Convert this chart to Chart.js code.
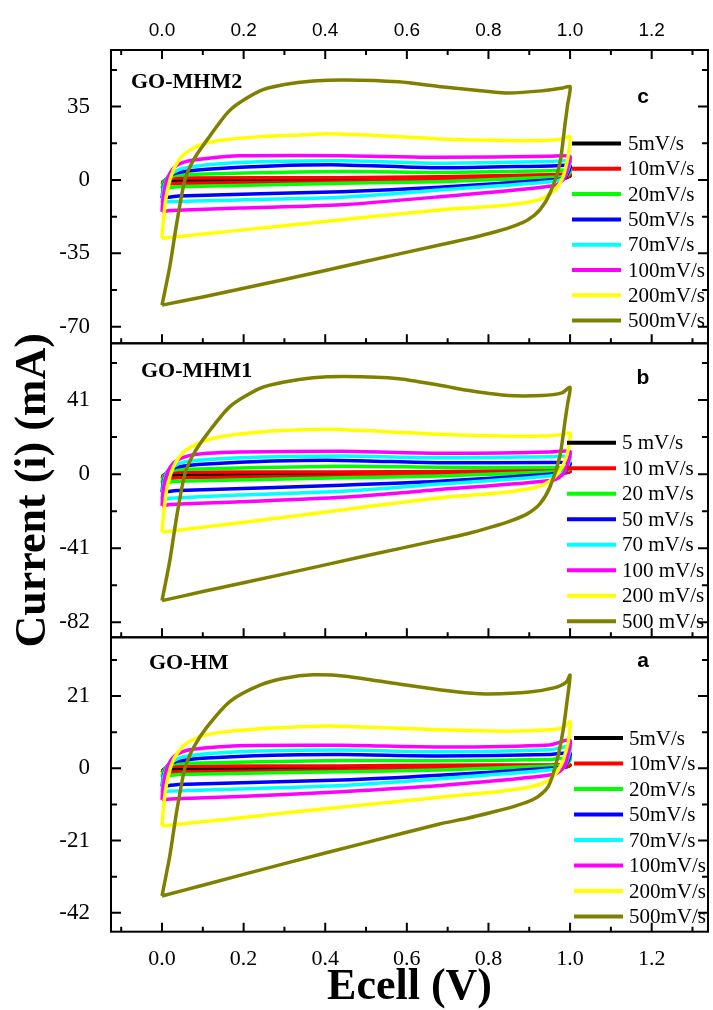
<!DOCTYPE html>
<html>
<head>
<meta charset="utf-8">
<script src="https://cdn.jsdelivr.net/npm/chart.js@4.4.1/dist/chart.umd.min.js"></script>
<style>
  html, body { margin: 0; padding: 0; background: #fff; }
  #wrap { position: relative; width: 713px; height: 1010px; }
  #wrap canvas { position: absolute; left: 0; top: 0; }
</style>
</head>
<body>
<div id="wrap">
  <canvas id="panelC" width="713" height="1010"></canvas>
  <canvas id="panelB" width="713" height="1010"></canvas>
  <canvas id="panelA" width="713" height="1010"></canvas>
</div>
<script>
// scan rates and colours (same for the 3 panels)
const legendC = ['5mV/s', '10mV/s', '20mV/s', '50mV/s', '70mV/s', '100mV/s', '200mV/s', '500mV/s'];
const legendB = ['5 mV/s', '10 mV/s', '20 mV/s', '50 mV/s', '70 mV/s', '100 mV/s', '200 mV/s', '500 mV/s'];
const legendA = ['5mV/s', '10mV/s', '20mV/s', '50mV/s', '70mV/s', '100mV/s', '200mV/s', '500mV/s'];
const colors = ['#000000', '#ff0000', '#00ff00', '#0000ff', '#00ffff', '#ff00ff', '#ffff00', '#808000'];

// axis ticks
const xMajor = [0, 0.2, 0.4, 0.6, 0.8, 1.0, 1.2];
const xMinor = [-0.1, 0.1, 0.3, 0.5, 0.7, 0.9, 1.1, 1.3];
const yMajorC = [-70, -35, 0, 35];
const yMinorC = [-52.5, -17.5, 17.5, 52.5];
const yMajorB = [-82, -41, 0, 41];
const yMinorB = [-61.5, -20.5, 20.5, 61.5];
const yMajorA = [-42, -21, 0, 21];
const yMinorA = [-31.5, -10.5, 10.5, 31.5];

// CV loops [Ecell (V), current (mA)] : forward sweep then reverse sweep
// panel c : GO-MHM2
const c5 = [[0,-1.2],[0.01,0],[0.03,0.5],[0.2,0.6],[0.44,0.8],[0.68,1.1],[0.95,1.7],[1,2],[0.99,1],[0.95,0.9],[0.68,0.1],[0.44,-0.4],[0.2,-0.7],[0.03,-1],[0,-1.2]];
const c10 = [[0,-2.1],[0.004,-0.6],[0.015,0.5],[0.04,0.9],[0.44,1.1],[0.68,1.6],[0.95,2.5],[1,2.8],[0.995,1.6],[0.98,1.4],[0.95,1.5],[0.68,0.3],[0.44,-0.8],[0.04,-1.6],[0,-2.1]];
const c20 = [[0,-4],[0.004,-1],[0.015,1.2],[0.04,2.4],[0.44,4],[0.68,3.6],[0.95,4.4],[1,4.6],[0.995,2.5],[0.98,1.6],[0.95,1.3],[0.68,-0.8],[0.44,-1.6],[0.04,-3.2],[0,-4]];
const c50 = [[0,-8.7],[0.004,-3],[0.015,1.5],[0.04,3.6],[0.11,5.1],[0.27,6.7],[0.44,7.2],[0.68,5.8],[0.95,6.7],[1,6.8],[0.995,3.5],[0.985,0.8],[0.95,0],[0.68,-3.5],[0.44,-5.6],[0.04,-7.6],[0,-8.7]];
const c70 = [[0,-11],[0.004,-4],[0.015,1.6],[0.05,5.5],[0.19,8.3],[0.44,9.2],[0.68,8],[0.95,8.8],[1,9],[0.995,5],[0.985,1],[0.95,-0.8],[0.68,-4.8],[0.44,-8.2],[0.19,-9.5],[0.02,-10.3],[0,-11]];
const c100 = [[0,-15.2],[0.003,-8],[0.012,0],[0.03,6],[0.06,8.9],[0.11,10.3],[0.19,11.5],[0.44,11.6],[0.68,10.8],[0.95,11.3],[1,11.2],[0.995,6],[0.985,0.5],[0.96,-2.8],[0.68,-8],[0.44,-11.8],[0.19,-13.4],[0.02,-14.6],[0,-15.2]];
const c200 = [[0,-27.8],[0.004,-18],[0.012,-6],[0.028,4.8],[0.052,11.9],[0.093,16.7],[0.15,19.1],[0.25,20.8],[0.34,21.5],[0.41,22],[0.55,21],[0.68,19.6],[0.85,18.8],[0.95,19],[0.985,19.8],[1,20.7],[0.998,15],[0.995,11.1],[0.983,1.6],[0.963,-4.8],[0.934,-8.6],[0.885,-11],[0.804,-12.7],[0.68,-14.3],[0.34,-21],[0,-27.8]];
const c500 = [[0,-59.7],[0.019,-41.4],[0.036,-20.7],[0.056,0],[0.077,9.5],[0.11,19],[0.167,33.4],[0.24,42.5],[0.3,45.5],[0.37,47.2],[0.45,47.7],[0.58,46.8],[0.684,44.5],[0.806,42.1],[0.848,41.5],[0.93,42.5],[0.98,43.8],[1,44.5],[0.994,36],[0.988,27.2],[0.975,8.1],[0.951,-6.2],[0.926,-14.3],[0.895,-19.2],[0.853,-22.6],[0.804,-25.4],[0.748,-28.1],[0.68,-31],[0.5,-38.8],[0.3,-47.5],[0.1,-55.8],[0,-59.7]];

// panel b : GO-MHM1
const b5 = [[0,-1.3],[0.01,0],[0.03,0.6],[0.44,0.8],[0.68,1],[0.95,1.4],[1,1.5],[0.99,0.8],[0.95,0.6],[0.68,0],[0.44,-0.4],[0.03,-1],[0,-1.3]];
const b10 = [[0,-2.5],[0.004,-0.6],[0.015,0.6],[0.04,1],[0.44,1.2],[0.68,1.5],[0.95,1.8],[1,1.5],[0.995,1],[0.95,1.2],[0.68,0.2],[0.44,-1],[0.04,-2],[0,-2.5]];
const b20 = [[0,-5],[0.004,-1.3],[0.015,1.3],[0.04,2.6],[0.44,4.3],[0.68,3.8],[0.95,3.6],[1,3.4],[0.995,2.2],[0.98,1.5],[0.95,1.2],[0.68,-1],[0.44,-2],[0.04,-4],[0,-5]];
const b50 = [[0,-10],[0.004,-3.5],[0.015,1.8],[0.04,4],[0.11,5.6],[0.27,7.2],[0.44,7.6],[0.68,6.3],[0.95,6.4],[1,6.2],[0.995,3.5],[0.985,0.8],[0.95,0],[0.68,-4],[0.44,-6.2],[0.04,-9.1],[0,-10]];
const b70 = [[0,-14],[0.004,-5],[0.015,2],[0.05,6.5],[0.19,9],[0.44,10],[0.68,9],[0.95,9.6],[1,9.8],[0.995,5],[0.985,1],[0.95,-1],[0.68,-5.5],[0.44,-9.5],[0.19,-11.5],[0.02,-13.3],[0,-14]];
const b100 = [[0,-17.6],[0.003,-9],[0.012,0],[0.03,6.5],[0.06,9.8],[0.11,11.5],[0.19,12.3],[0.44,12.6],[0.68,11.5],[0.95,12.2],[1,12.5],[0.995,6.5],[0.985,0.5],[0.96,-3.2],[0.68,-8.5],[0.44,-12.8],[0.19,-15.3],[0.02,-16.8],[0,-17.6]];
const b200 = [[0,-32.1],[0.004,-22],[0.012,-8],[0.028,4],[0.052,12],[0.093,17.5],[0.15,21],[0.25,23.5],[0.34,24.5],[0.41,24.8],[0.55,23.5],[0.68,22],[0.85,21],[0.95,21.3],[0.985,22],[1,22.7],[0.998,17],[0.995,13],[0.983,5],[0.963,-1.5],[0.934,-5.9],[0.885,-8.7],[0.804,-10.9],[0.68,-13.1],[0.34,-22.7],[0,-32.1]];
const b500 = [[0,-70],[0.019,-48],[0.036,-23.5],[0.056,0],[0.077,11],[0.11,22],[0.167,37.5],[0.24,47.5],[0.3,51],[0.37,53.3],[0.45,54],[0.58,52.8],[0.684,49],[0.76,46],[0.848,43.5],[0.93,43.5],[0.98,45],[1,48],[0.994,39],[0.988,30],[0.975,10],[0.951,-7],[0.926,-16.5],[0.895,-22],[0.853,-26],[0.804,-29.5],[0.748,-33],[0.68,-36.4],[0.5,-45.2],[0.3,-55.2],[0.1,-65],[0,-70]];

// panel a : GO-HM
const a5 = [[0,-0.7],[0.01,0],[0.03,0.3],[0.44,0.4],[0.68,0.6],[0.95,0.8],[1,0.9],[0.99,0.4],[0.95,0.4],[0.68,0],[0.44,-0.2],[0.03,-0.5],[0,-0.7]];
const a10 = [[0,-1.3],[0.004,-0.3],[0.015,0.4],[0.04,0.6],[0.44,0.7],[0.68,0.9],[0.95,1],[1,1],[0.995,0.6],[0.95,0.7],[0.68,0.1],[0.44,-0.5],[0.04,-1],[0,-1.3]];
const a20 = [[0,-2.5],[0.004,-0.7],[0.015,0.8],[0.04,1.4],[0.44,2.3],[0.68,2.2],[0.95,2.6],[1,3],[0.995,1.5],[0.98,0.9],[0.95,0.7],[0.68,-0.5],[0.44,-1],[0.04,-1.8],[0,-2.5]];
const a50 = [[0,-5.3],[0.004,-2],[0.015,1],[0.04,2.1],[0.11,3],[0.27,3.8],[0.44,4],[0.68,3.6],[0.95,4],[1,4.4],[0.995,2.2],[0.985,0.5],[0.95,0],[0.68,-2],[0.44,-3.4],[0.04,-4.7],[0,-5.3]];
const a70 = [[0,-7],[0.004,-2.5],[0.015,1],[0.05,3.3],[0.19,4.8],[0.44,5.3],[0.68,4.8],[0.95,5.4],[1,6.3],[0.995,3],[0.985,0.6],[0.95,-0.5],[0.68,-3],[0.44,-5],[0.19,-6],[0.02,-6.6],[0,-7]];
const a100 = [[0,-9.2],[0.003,-5],[0.012,0],[0.03,3.5],[0.06,5.2],[0.11,6],[0.19,6.6],[0.44,6.7],[0.68,6.2],[0.95,6.8],[1,8.2],[0.995,4],[0.985,0.3],[0.96,-1.8],[0.68,-5],[0.44,-6.8],[0.19,-8.2],[0.02,-8.9],[0,-9.2]];
const a200 = [[0,-16.8],[0.004,-11],[0.012,-4],[0.028,2.5],[0.052,6.5],[0.093,9.2],[0.15,10.6],[0.25,11.6],[0.34,12.1],[0.41,12.3],[0.55,11.8],[0.68,11.2],[0.85,10.8],[0.95,11.2],[0.985,12],[1,13.5],[0.998,9.5],[0.99,5],[0.98,1.5],[0.963,-1.8],[0.934,-4.3],[0.885,-5.8],[0.804,-7],[0.68,-8.4],[0.34,-12.5],[0,-16.8]];
const a500 = [[0,-37.1],[0.019,-25.5],[0.036,-12.5],[0.056,0],[0.077,6],[0.11,12],[0.167,19.5],[0.24,24.2],[0.3,26.2],[0.37,27.2],[0.45,26.8],[0.58,24.5],[0.684,22.8],[0.76,21.8],[0.8,21.6],[0.9,22.2],[0.96,23.4],[0.99,25],[1,27.1],[0.993,19.9],[0.983,11.1],[0.968,2.4],[0.946,-5.4],[0.914,-8.8],[0.865,-11],[0.804,-12.9],[0.748,-14.5],[0.68,-16.2],[0.5,-21.6],[0.3,-27.7],[0.1,-34],[0,-37.1]];

const SERIF = "'Liberation Serif', 'Times New Roman', serif";
const SANS = "'Liberation Sans', Arial, sans-serif";
const W = 713, H = 1010;
const X_MIN = -0.125, X_MAX = 1.338;

// frame, inward ticks, legend and panel labels
const framePlugin = {
  id: 'frame',
  afterDraw(chart, args, o) {
    const { ctx, chartArea: a } = chart;
    const x = chart.scales.x, y = chart.scales.y;
    ctx.save();
    ctx.strokeStyle = '#000';
    ctx.lineWidth = 2;
    ctx.strokeRect(a.left, a.top, a.right - a.left, a.bottom - a.top);
    ctx.beginPath();
    const xt = (v, len) => {
      const p = x.getPixelForValue(v);
      ctx.moveTo(p, a.bottom); ctx.lineTo(p, a.bottom - len);
      if (o.topTicks) { ctx.moveTo(p, a.top); ctx.lineTo(p, a.top + len); }
    };
    const yt = (v, len) => {
      const p = y.getPixelForValue(v);
      ctx.moveTo(a.left, p); ctx.lineTo(a.left + len, p);
      ctx.moveTo(a.right, p); ctx.lineTo(a.right - len, p);
    };
    xMajor.forEach(v => xt(v, 9));
    xMinor.forEach(v => xt(v, 5));
    o.yMajor.forEach(v => yt(v, 10));
    o.yMinor.forEach(v => yt(v, 6));
    ctx.stroke();

    // legend
    const L = o.legend;
    ctx.lineWidth = 4;
    ctx.font = '21px ' + SERIF;
    ctx.textAlign = 'left';
    ctx.textBaseline = 'middle';
    L.labels.forEach((txt, i) => {
      const ly = L.y0 + i * L.step;
      ctx.strokeStyle = colors[i];
      ctx.beginPath();
      ctx.moveTo(L.x0, ly); ctx.lineTo(L.x1, ly);
      ctx.stroke();
      ctx.fillStyle = '#000';
      ctx.fillText(txt, L.tx, ly + 1);
    });

    // panel name and letter
    ctx.fillStyle = '#000';
    ctx.font = 'bold 22px ' + SERIF;
    ctx.fillText(o.name, o.nameAt[0], o.nameAt[1]);
    ctx.textAlign = 'center';
    ctx.font = 'bold 21px ' + SANS;
    ctx.fillText(o.letter, o.letterAt[0], o.letterAt[1]);
    ctx.restore();
  }
};

function makePanel(p) {
  const datasets = p.loops.map((loop, i) => ({
    label: p.legend[i],
    data: loop.map(([v, c]) => ({ x: v, y: c })),
    showLine: true,
    borderColor: colors[i],
    backgroundColor: colors[i],
    borderWidth: 3.5,
    borderJoinStyle: 'round',
    pointRadius: 0,
    tension: 0.25,
    order: 7 - i
  }));

  const xScale = {
    type: 'linear', min: X_MIN, max: X_MAX,
    position: p.axis === 'top' ? 'top' : 'bottom',
    display: p.axis !== 'none',
    afterBuildTicks: s => { s.ticks = xMajor.map(v => ({ value: v })); },
    grid: { display: false }, border: { display: false },
    ticks: {
      autoSkip: false, maxRotation: 0, color: '#000',
      callback: v => v.toFixed(1)
    }
  };
  if (p.axis === 'top') {
    xScale.afterFit = s => { s.height = p.top; };
    xScale.ticks.font = { family: SANS, size: 19 };
    xScale.ticks.padding = 0;
  } else if (p.axis === 'bottom') {
    xScale.afterFit = s => { s.height = H - p.bottom; };
    xScale.ticks.font = { family: SERIF, size: 22 };
    xScale.ticks.padding = 6;
    xScale.title = {
      display: true, text: 'Ecell (V)', color: '#000',
      font: { family: SERIF, size: 44, weight: 'bold', lineHeight: 1 },
      padding: { top: 0, bottom: 0 }
    };
  }

  const yScale = {
    type: 'linear', min: p.yMin, max: p.yMax,
    afterBuildTicks: s => { s.ticks = p.yMajor.map(v => ({ value: v })); },
    afterFit: s => { s.width = 111; },
    grid: { display: false }, border: { display: false },
    ticks: { font: { family: SERIF, size: 23 }, color: '#000', padding: 13, callback: v => String(v) }
  };
  if (p.yTitle) {
    yScale.title = {
      display: true, text: p.yTitle, color: '#000',
      font: { family: SERIF, size: 44, weight: 'bold', lineHeight: 1 },
      padding: { top: 12, bottom: 0 }
    };
  }

  return new Chart(document.getElementById(p.id), {
    type: 'scatter',
    data: { datasets },
    options: {
      responsive: false,
      animation: false,
      layout: {
        padding: {
          left: 0, right: 5,
          top: p.axis === 'top' ? 0 : p.top,
          bottom: p.axis === 'bottom' ? 0 : H - p.bottom
        }
      },
      scales: { x: xScale, y: yScale },
      plugins: {
        legend: { display: false },
        tooltip: { enabled: false },
        frame: {
          topTicks: p.axis === 'top',
          yMajor: p.yMajor, yMinor: p.yMinor,
          legend: p.legendBox,
          name: p.name, nameAt: p.nameAt,
          letter: p.letter, letterAt: p.letterAt
        }
      }
    },
    plugins: [framePlugin]
  });
}

makePanel({
  id: 'panelC', loops: [c5, c10, c20, c50, c70, c100, c200, c500], legend: legendC,
  top: 50, bottom: 343.3, axis: 'top', yMin: -77.9, yMax: 62,
  yMajor: yMajorC, yMinor: yMinorC,
  name: 'GO-MHM2', nameAt: [131, 82], letter: 'c', letterAt: [643, 97],
  legendBox: { labels: legendC, x0: 572, x1: 621, tx: 628, y0: 143.5, step: 25.3 }
});
makePanel({
  id: 'panelB', loops: [b5, b10, b20, b50, b70, b100, b200, b500], legend: legendB,
  top: 343.3, bottom: 637.3, axis: 'none', yMin: -90.3, yMax: 72.4,
  yMajor: yMajorB, yMinor: yMinorB, yTitle: 'Current (i) (mA)',
  name: 'GO-MHM1', nameAt: [141, 371], letter: 'b', letterAt: [643, 378],
  legendBox: { labels: legendB, x0: 567, x1: 616, tx: 622, y0: 442.7, step: 25.5 }
});
makePanel({
  id: 'panelA', loops: [a5, a10, a20, a50, a70, a100, a200, a500], legend: legendA,
  top: 637.3, bottom: 931.7, axis: 'bottom', yMin: -47.5, yMax: 38.1,
  yMajor: yMajorA, yMinor: yMinorA,
  name: 'GO-HM', nameAt: [149, 663], letter: 'a', letterAt: [643, 661],
  legendBox: { labels: legendA, x0: 574, x1: 623, tx: 629, y0: 738, step: 25.5 }
});
</script>
</body>
</html>
